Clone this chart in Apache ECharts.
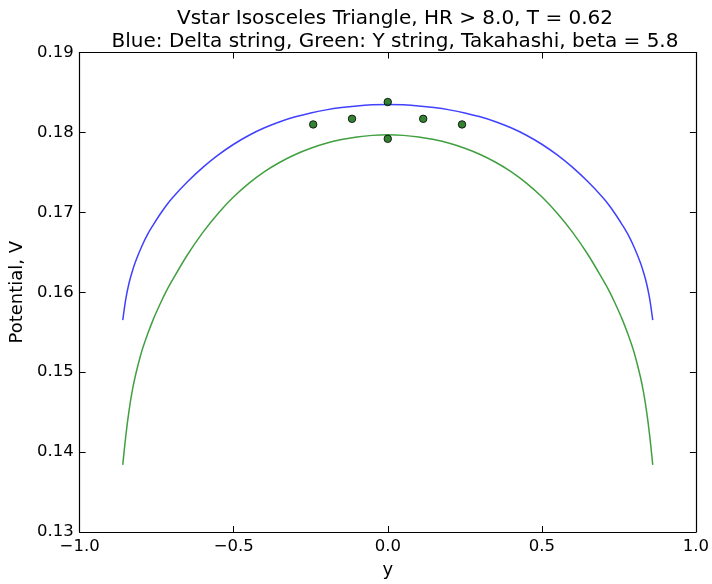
<!DOCTYPE html>
<html>
<head>
<meta charset="utf-8">
<script src="https://cdn.jsdelivr.net/npm/echarts@6/dist/echarts.min.js"></script>
<style>
  html, body { margin: 0; padding: 0; background: #fff; }
  #chart { width: 712px; height: 584px; }
</style>
</head>
<body>
<div id="chart"></div>
<script>
// Sample positions along y (shared by both string models)
const posY = [-0.86, -0.85, -0.84, -0.83, -0.82, -0.80, -0.78, -0.76, -0.74, -0.72, -0.70, -0.65, -0.60, -0.55, -0.50, -0.45,
              -0.40, -0.35, -0.30, -0.25, -0.20, -0.15, -0.10, -0.05, 0.00, 0.05, 0.10, 0.15, 0.20, 0.25, 0.30, 0.35,
              0.40, 0.45, 0.50, 0.55, 0.60, 0.65, 0.70, 0.72, 0.74, 0.76, 0.78, 0.80, 0.82, 0.83, 0.84, 0.85, 0.86];

// Delta-string potential (blue)
const deltaV = [0.1565, 0.1592, 0.1611, 0.1625, 0.1637, 0.1656, 0.1672, 0.1685, 0.1697, 0.1708, 0.17177, 0.17382, 0.17562, 0.17718, 0.17852, 0.17965,
                0.18058, 0.18134, 0.18195, 0.18244, 0.18282, 0.18311, 0.18332, 0.18345, 0.18350, 0.18345, 0.18332, 0.18311, 0.18282, 0.18244, 0.18195, 0.18134,
                0.18058, 0.17965, 0.17852, 0.17718, 0.17562, 0.17382, 0.17177, 0.1708, 0.1697, 0.1685, 0.1672, 0.1656, 0.1637, 0.1625, 0.1611, 0.1592, 0.1565];

// Y-string potential (green)
const yStrV = [0.1384, 0.1421, 0.1451, 0.1475, 0.1494, 0.1524, 0.1547, 0.1567, 0.15844, 0.16004, 0.16144, 0.16469, 0.16749, 0.16989, 0.17194, 0.17366,
               0.17510, 0.17627, 0.17724, 0.17802, 0.17864, 0.17910, 0.17943, 0.17963, 0.17970, 0.17963, 0.17943, 0.17910, 0.17864, 0.17802, 0.17724, 0.17627,
               0.17510, 0.17366, 0.17194, 0.16989, 0.16749, 0.16469, 0.16144, 0.16004, 0.15844, 0.1567, 0.1547, 0.1524, 0.1494, 0.1475, 0.1451, 0.1421, 0.1384];

// Lattice measurements
const measY = [-0.242, -0.116, 0.000, 0.000, 0.115, 0.241];
const measV = [0.1810, 0.1817, 0.1838, 0.1792, 0.1817, 0.1810];

const xTicks = [-1.0, -0.5, 0.0, 0.5, 1.0];
const yTicks = [0.13, 0.14, 0.15, 0.16, 0.17, 0.18, 0.19];

const titleLines = ['Vstar Isosceles Triangle, HR > 8.0, T = 0.62',
                    'Blue: Delta string, Green: Y string, Takahashi, beta = 5.8'];

const pairs = (xs, ys) => xs.map((x, i) => [x, ys[i]]);
const FONT = 'DejaVu Sans';
const fmtX = v => (v < 0 ? '\u2212' : '') + Math.abs(v).toFixed(1);

const chart = echarts.init(document.getElementById('chart'), null, { renderer: 'canvas' });

const frameAxis = {
  axisLine: { show: true, onZero: false, lineStyle: { color: '#000', width: 1.2 } },
  axisTick: { show: true, inside: true, length: 6, lineStyle: { color: '#000', width: 1 } },
  splitLine: { show: false }
};

chart.setOption({
  animation: false,
  backgroundColor: '#fff',
  title: {
    text: titleLines.join('\n'),
    left: 390,
    textAlign: 'center',
    top: 2,
    textStyle: { fontFamily: FONT, fontSize: 20, fontWeight: 'normal', color: '#000', lineHeight: 23 }
  },
  grid: { left: 78, right: 10.5, top: 52.5, bottom: 49.5, containLabel: false },
  xAxis: [
    Object.assign({
      type: 'value', position: 'bottom', min: xTicks[0], max: xTicks[xTicks.length - 1], interval: 0.5,
      name: 'y', nameLocation: 'middle', nameGap: 29,
      nameTextStyle: { fontFamily: FONT, fontSize: 18, color: '#000' },
      axisLabel: { fontFamily: FONT, fontSize: 16.5, color: '#000', margin: 6, formatter: fmtX }
    }, frameAxis),
    Object.assign({
      type: 'value', position: 'top', min: xTicks[0], max: xTicks[xTicks.length - 1], interval: 0.5,
      axisLabel: { show: false }
    }, frameAxis)
  ],
  yAxis: [
    Object.assign({
      type: 'value', position: 'left', min: yTicks[0], max: yTicks[yTicks.length - 1], interval: 0.01,
      name: 'Potential, V', nameLocation: 'middle', nameGap: 46, nameRotate: 90,
      nameTextStyle: { fontFamily: FONT, fontSize: 18, color: '#000' },
      axisLabel: { fontFamily: FONT, fontSize: 16.5, color: '#000', margin: 6, formatter: v => v.toFixed(2) }
    }, frameAxis),
    Object.assign({
      type: 'value', position: 'right', min: yTicks[0], max: yTicks[yTicks.length - 1], interval: 0.01,
      axisLabel: { show: false }
    }, frameAxis)
  ],
  series: [
    {
      name: 'Delta string', type: 'line', data: pairs(posY, deltaV), smooth: 0.35, showSymbol: false,
      lineStyle: { color: 'rgba(0,0,255,0.75)', width: 1.5 }, z: 2
    },
    {
      name: 'Y string', type: 'line', data: pairs(posY, yStrV), smooth: 0.35, showSymbol: false,
      lineStyle: { color: 'rgba(0,128,0,0.75)', width: 1.5 }, z: 2
    },
    {
      name: 'Lattice', type: 'scatter', data: pairs(measY, measV), symbolSize: 7.5,
      itemStyle: { color: '#006400', borderColor: '#000', borderWidth: 1 }, z: 3
    }
  ]
});
</script>
</body>
</html>
